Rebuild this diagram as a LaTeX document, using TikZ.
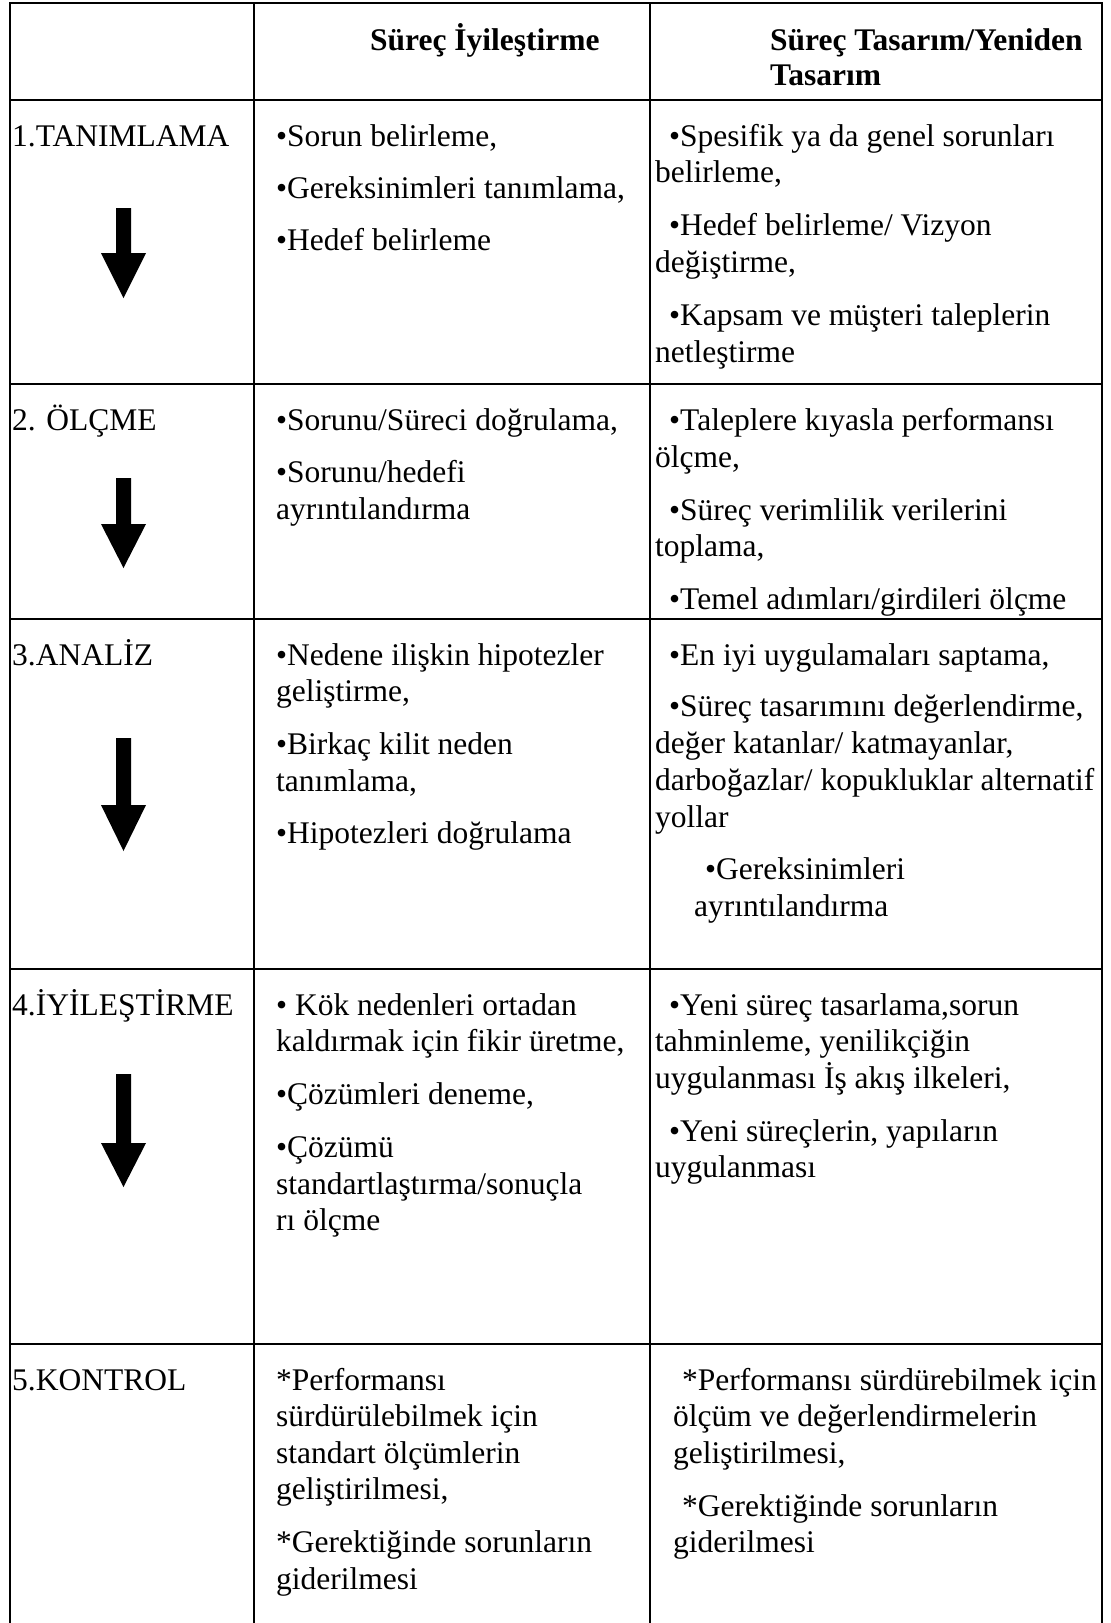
\documentclass[tikz,border=0pt]{standalone}
\usepackage{fontspec}
\setmainfont{Liberation Serif}
\begin{document}
\begin{tikzpicture}[x=1pt,y=-1pt,
  txt/.style={anchor=base west, inner sep=0pt, font=\fontsize{31.5}{36.5}\selectfont},
  head/.style={txt, font=\fontsize{31.5}{36.5}\selectfont\bfseries},
  rule/.style={line width=1.6pt},
  frame/.style={line width=2pt},
  headrule/.style={line width=2.6pt},
  flowarrow/.style={fill=black}]
\useasboundingbox (0,0) rectangle (1111,1623);

% table frame and rules
\draw[frame] (9.5,1623) -- (9.5,3.3) -- (1102,3.3) -- (1102,1623);
\draw[headrule] (9.5,100) -- (1102,100);
\foreach \y in {384,619,969,1344} \draw[rule] (9.5,\y) -- (1102,\y);
\foreach \x in {254,650} \draw[rule] (\x,3.3) -- (\x,1623);

% block arrows between the stages: top of shaft, base of head, tip
\newcommand\stagearrow[3]{%
  \fill[flowarrow] (116,#1) -- (131,#1) -- (131,#2) -- (146,#2) -- (123.5,#3)
    -- (101,#2) -- (116,#2) -- cycle;}
\stagearrow{208}{253}{298}
\stagearrow{478}{524}{568}
\stagearrow{738}{805}{851}
\stagearrow{1074}{1143}{1187}

% header
\node[head] (h2) at (370,50) {Süreç İyileştirme};
\node[head] (h3a) at (770,50) {Süreç Tasarım/Yeniden};
\node[head] (h3b) at (770,85) {Tasarım};

% 1. TANIMLAMA
\node[txt] (s1) at (12,146) {1.TANIMLAMA};
\node[txt] (a1a) at (276,146) {•Sorun belirleme,};
\node[txt] (a1b) at (276,198) {•Gereksinimleri tanımlama,};
\node[txt] (a1c) at (276,250) {•Hedef belirleme};
\node[txt] (b1a) at (669,146) {•Spesifik ya da genel sorunları};
\node[txt] (b1b) at (655,182) {belirleme,};
\node[txt] (b1c) at (669,235) {•Hedef belirleme/ Vizyon};
\node[txt] (b1d) at (655,272) {değiştirme,};
\node[txt] (b1e) at (669,325) {•Kapsam ve müşteri taleplerin};
\node[txt] (b1f) at (655,362) {netleştirme};

% 2. ÖLÇME
\node[txt] (s2) at (12,430) {2. ÖLÇME};
\node[txt] (a2a) at (276,430) {•Sorunu/Süreci doğrulama,};
\node[txt] (a2b) at (276,482) {•Sorunu/hedefi};
\node[txt] (a2c) at (276,519) {ayrıntılandırma};
\node[txt] (b2a) at (669,430) {•Taleplere kıyasla performansı};
\node[txt] (b2b) at (655,467) {ölçme,};
\node[txt] (b2c) at (669,520) {•Süreç verimlilik verilerini};
\node[txt] (b2d) at (655,556) {toplama,};
\node[txt] (b2e) at (669,609) {•Temel adımları/girdileri ölçme};

% 3. ANALİZ
\node[txt] (s3) at (12,665) {3.ANALİZ};
\node[txt] (a3a) at (276,665) {•Nedene ilişkin hipotezler};
\node[txt] (a3b) at (276,701.5) {geliştirme,};
\node[txt] (a3c) at (276,754) {•Birkaç kilit neden};
\node[txt] (a3d) at (276,791) {tanımlama,};
\node[txt] (a3e) at (276,843) {•Hipotezleri doğrulama};
\node[txt] (b3a) at (669,665) {•En iyi uygulamaları saptama,};
\node[txt] (b3b) at (669,716) {•Süreç tasarımını değerlendirme,};
\node[txt] (b3c) at (655,753) {değer katanlar/ katmayanlar,};
\node[txt] (b3d) at (655,790) {darboğazlar/ kopukluklar alternatif};
\node[txt] (b3e) at (655,827) {yollar};
\node[txt] (b3f) at (705,879) {•Gereksinimleri};
\node[txt] (b3g) at (694,916) {ayrıntılandırma};

% 4. İYİLEŞTİRME
\node[txt] (s4) at (12,1015) {4.İYİLEŞTİRME};
\node[txt] (a4a) at (276,1015) {• Kök nedenleri ortadan};
\node[txt] (a4b) at (276,1051.5) {kaldırmak için fikir üretme,};
\node[txt] (a4c) at (276,1104.5) {•Çözümleri deneme,};
\node[txt] (a4d) at (276,1157.5) {•Çözümü};
\node[txt] (a4e) at (276,1194) {standartlaştırma/sonuçla};
\node[txt] (a4f) at (276,1230.5) {rı ölçme};
\node[txt] (b4a) at (669,1015) {•Yeni süreç tasarlama,sorun};
\node[txt] (b4b) at (655,1051.5) {tahminleme, yenilikçiğin};
\node[txt] (b4c) at (655,1088) {uygulanması İş akış ilkeleri,};
\node[txt] (b4d) at (669,1141) {•Yeni süreçlerin, yapıların};
\node[txt] (b4e) at (655,1177.5) {uygulanması};

% 5. KONTROL
\node[txt] (s5) at (12,1390) {5.KONTROL};
\node[txt] (a5a) at (276,1390) {*Performansı};
\node[txt] (a5b) at (276,1426.5) {sürdürülebilmek için};
\node[txt] (a5c) at (276,1463) {standart ölçümlerin};
\node[txt] (a5d) at (276,1499.5) {geliştirilmesi,};
\node[txt] (a5e) at (276,1552.5) {*Gerektiğinde sorunların};
\node[txt] (a5f) at (276,1589) {giderilmesi};
\node[txt] (b5a) at (682,1390) {*Performansı sürdürebilmek için};
\node[txt] (b5b) at (673,1426.5) {ölçüm ve değerlendirmelerin};
\node[txt] (b5c) at (673,1463) {geliştirilmesi,};
\node[txt] (b5d) at (682,1516) {*Gerektiğinde sorunların};
\node[txt] (b5e) at (673,1552.5) {giderilmesi};
\end{tikzpicture}
\end{document}
